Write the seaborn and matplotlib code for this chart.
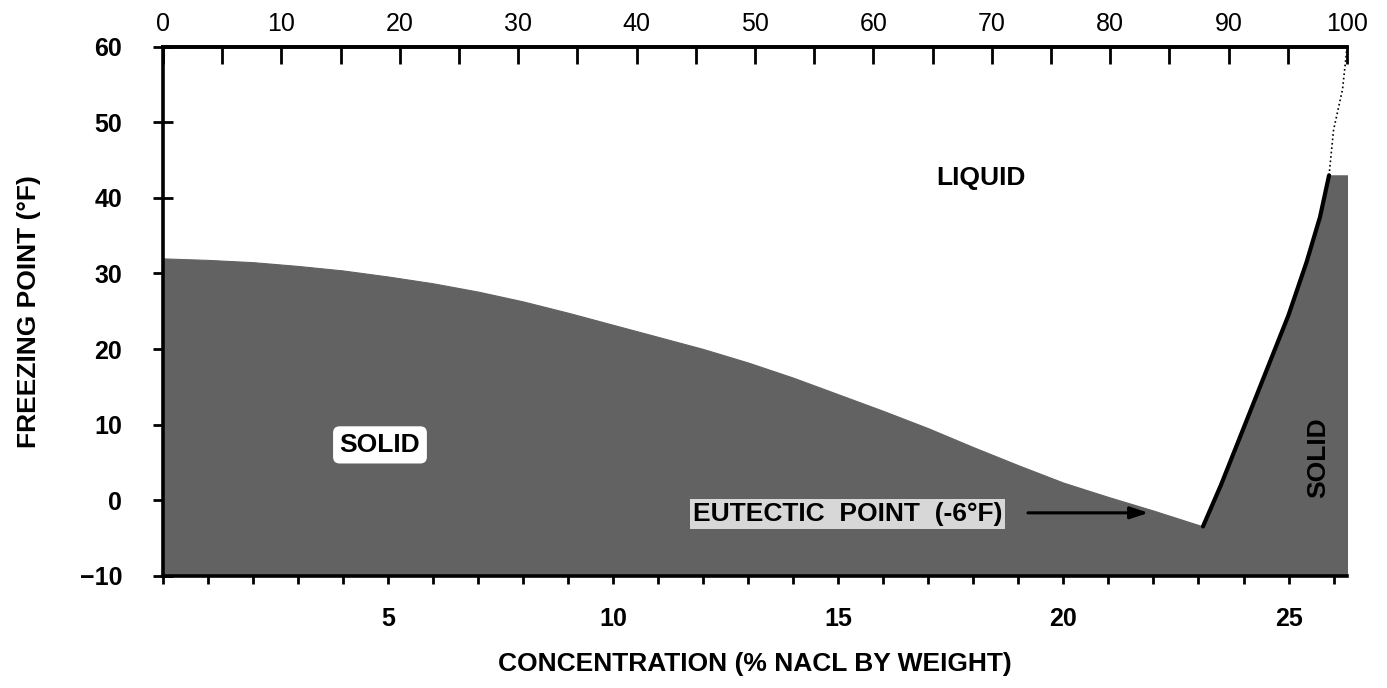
import matplotlib
matplotlib.use("Agg")
import matplotlib.pyplot as plt
import seaborn as sns
import numpy as np
from matplotlib.ticker import MultipleLocator, FixedLocator

# ---- data ----
conc_liquidus = [0, 1, 2, 3, 4, 5, 6, 7, 8, 9, 10, 11, 12, 13, 14, 15, 16, 17, 18, 19, 20, 21, 22, 23.1]
temp_liquidus = [32, 31.8, 31.5, 31.0, 30.4, 29.6, 28.7, 27.6, 26.3, 24.8, 23.2, 21.6, 20.0, 18.2,
                 16.2, 14.0, 11.8, 9.5, 7.0, 4.6, 2.3, 0.4, -1.4, -3.5]
conc_salt = [23.1, 23.5, 24.0, 24.5, 25.0, 25.4, 25.7, 25.9]
temp_salt = [-3.5, 2.0, 9.5, 17.0, 24.5, 31.5, 37.5, 43.0]
conc_salt_ext = [25.9, 26.0, 26.2, 26.3]
temp_salt_ext = [43.0, 49.0, 54.4, 60.0]
saturation = 26.3
bottom_ticks = [5, 10, 15, 20, 25]
y_ticks = [-10, 0, 10, 20, 30, 40, 50, 60]
top_ticks = [0, 10, 20, 30, 40, 50, 60, 70, 80, 90, 100]

sns.set_theme(style="ticks")
plt.rcParams['font.family'] = ['Liberation Sans', 'DejaVu Sans']
plt.rcParams['text.color'] = 'black'
plt.rcParams['axes.labelcolor'] = 'black'
plt.rcParams['xtick.color'] = 'black'
plt.rcParams['ytick.color'] = 'black'

fig = plt.figure(figsize=(13.87, 6.88), dpi=100)
ax = fig.add_axes([0.1175, 0.1635, 0.8537, 0.7682])

fill_col = "#626262"
ax.fill_between(conc_liquidus, -10, temp_liquidus, facecolor=fill_col, edgecolor=fill_col,
                lw=0.8, zorder=1)
ax.fill_betweenx([-10] + temp_salt, [conc_salt[0]] + conc_salt, saturation,
                 facecolor=fill_col, edgecolor=fill_col, lw=0.8, zorder=1)

sns.lineplot(x=conc_salt, y=temp_salt, color="black", lw=3, sort=False, ax=ax, zorder=3)
sns.lineplot(x=conc_salt_ext, y=temp_salt_ext, color="black", lw=1.2, ls=":", sort=False,
             ax=ax, zorder=3)

ax.set_xlim(0, saturation)
ax.set_ylim(-10, 60)

# spines
for s in ["left", "top", "bottom"]:
    ax.spines[s].set_linewidth(2.6)
    ax.spines[s].set_color("black")
    ax.spines[s].set_zorder(4)
ax.spines["right"].set_visible(False)

ax.xaxis.set_major_locator(FixedLocator(bottom_ticks))
ax.xaxis.set_minor_locator(MultipleLocator(1))
ax.yaxis.set_major_locator(FixedLocator(y_ticks))
ax.tick_params(axis="x", which="both", direction="inout", length=11, width=2,
               color="black", top=False, pad=17)
ax.tick_params(axis="x", which="major", labelsize=18, labelcolor="black")
ax.tick_params(axis="y", which="major", direction="inout", length=15, width=2,
               color="black", pad=22, labelsize=18, labelcolor="black")
ax.set_yticklabels(["\u221210" if v < 0 else str(v) for v in y_ticks])
for lab in ax.get_xticklabels() + ax.get_yticklabels():
    lab.set_fontweight("bold")

# top axis: percent saturation
top = ax.secondary_xaxis("top", functions=(lambda c: c / saturation * 100,
                                           lambda p: p * saturation / 100))
top.xaxis.set_major_locator(FixedLocator(top_ticks))
top.xaxis.set_minor_locator(MultipleLocator(5))
top.tick_params(which="both", direction="in", length=12, width=2, color="black")
top.tick_params(which="major", labelsize=18, pad=8, labelcolor="black")
top.spines["top"].set_linewidth(2.6)
top.spines["top"].set_color("black")

ax.set_xlabel("CONCENTRATION (% NACL BY WEIGHT)", fontsize=19, fontweight="bold",
              labelpad=15, color="black")
ax.set_ylabel("FREEZING POINT (\u00b0F)", fontsize=19, fontweight="bold", labelpad=28,
              color="black")

# annotations
ax.text(18.16, 42.6, "LIQUID", fontsize=19, fontweight="bold", ha="center", va="center",
        color="black")
ax.text(4.82, 7.3, "SOLID", fontsize=19, fontweight="bold", ha="center", va="center",
        color="black",
        bbox=dict(boxstyle="round,pad=0.25", fc="white", ec="none"), zorder=5)
ax.text(25.67, 5.6, "SOLID", fontsize=19, fontweight="bold", ha="center", va="center",
        rotation=90, color="black", zorder=5)
ax.text(15.2, -1.85, "EUTECTIC  POINT  (-6\u00b0F)", fontsize=19, fontweight="bold",
        ha="center", va="center", color="black",
        bbox=dict(boxstyle="square,pad=0.1", fc="white", ec="none", alpha=0.75), zorder=5)
ax.annotate("", xy=(21.95, -1.7), xytext=(19.15, -1.7),
            arrowprops=dict(arrowstyle="-|>,head_length=0.9,head_width=0.3",
                            color="black", lw=2.2), zorder=5)

fig.savefig("out.png", dpi=100)
